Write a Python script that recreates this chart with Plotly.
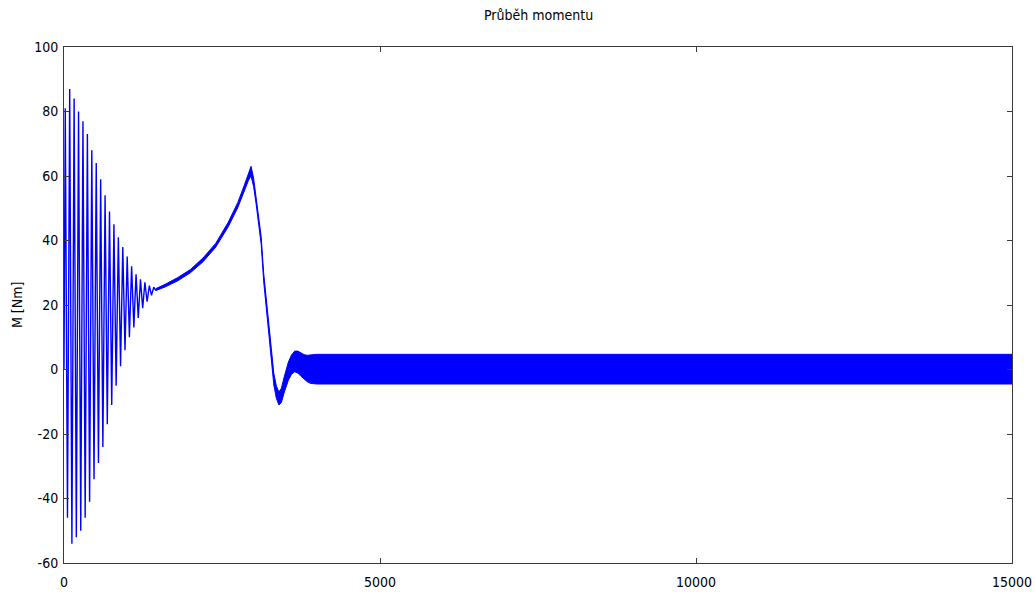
import plotly.graph_objects as go

# Early oscillation: alternating peaks / troughs (time in samples, torque in Nm)
spike_t = [0, 20, 55, 90, 125, 160, 195, 230, 265, 300, 335, 370, 405, 440, 475,
           510, 545, 580, 615, 650, 685, 720, 755, 790, 825, 860, 895, 930, 965,
           1000, 1035, 1070, 1105, 1140, 1175, 1210, 1245, 1280, 1315, 1350, 1385,
           1420, 1455]
spike_m = [0, 81, -46, 87, -54, 84, -52, 80, -50, 77, -46, 73, -41, 68, -34,
           64, -29, 59, -24, 54, -17, 49, -11, 45, -5, 41, 1, 38, 6,
           35, 10, 32, 13, 29.5, 16, 28, 19, 27, 21, 26, 23,
           25.5, 24.5]

# Later part: dense ripple drawn as a band between upper / lower envelopes
band_t = [1455, 1600, 1800, 2000, 2200, 2400, 2600, 2750, 2850, 2920, 2960,
          3000, 3040, 3080, 3120, 3160, 3200, 3240, 3280, 3320, 3360, 3400,
          3440, 3480, 3550, 3600, 3650, 3700, 3750, 3800, 3850, 3900, 4000, 15000]
band_upper = [25.1, 26.4, 28.5, 31.0, 34.6, 39.1, 45.7, 51.8, 57.0, 61.3, 63.0,
              59.3, 53.7, 48.2, 41.2, 29.8, 21.4, 14.5, 6.6, -1.2, -5.1, -7.0,
              -5.8, -2.6, 2.3, 4.5, 5.7, 5.7, 5.1, 4.6, 4.4, 4.5, 4.7, 4.7]
band_lower = [24.5, 25.6, 27.5, 30.0, 33.4, 37.9, 44.3, 50.2, 55.0, 58.7, 60.0,
              56.7, 51.3, 45.8, 38.8, 27.2, 18.6, 11.5, 3.4, -4.8, -8.9, -11.0,
              -10.2, -7.4, -3.3, -1.5, -0.7, -1.1, -2.1, -3.0, -3.8, -4.3, -4.5, -4.5]

x_ticks = [0, 5000, 10000, 15000]
y_ticks = [-60, -40, -20, 0, 20, 40, 60, 80, 100]

BLUE = "#0000ff"
AXC = "#3a3a3a"
FONT = "DejaVu Sans Condensed, Liberation Sans, Arial, sans-serif"

fig = go.Figure()
fig.add_trace(go.Scatter(
    x=band_t + band_t[::-1],
    y=band_upper + band_lower[::-1],
    mode="lines", fill="toself", fillcolor=BLUE,
    line=dict(color=BLUE, width=1), hoverinfo="skip", showlegend=False))
fig.add_trace(go.Scatter(
    x=spike_t, y=spike_m, mode="lines",
    line=dict(color=BLUE, width=1.4), showlegend=False))

axis_common = dict(showline=True, linecolor=AXC, linewidth=1, mirror="ticks",
                   ticks="inside", ticklen=5, tickcolor=AXC, showgrid=False,
                   zeroline=False, automargin=False,
                   tickfont=dict(family=FONT, size=14, color="#000"))

fig.update_xaxes(range=[0, 15000], tickvals=x_ticks,
                 ticktext=[str(v) for v in x_ticks], ticklabelstandoff=6,
                 **axis_common)
fig.update_yaxes(range=[-60, 100], tickvals=y_ticks,
                 ticktext=[str(v) for v in y_ticks], ticklabelstandoff=2,
                 **axis_common)

fig.add_annotation(text="Průběh momentu", xref="paper", yref="paper",
                   x=0.5, y=1 + 32 / 516, xanchor="center", yanchor="middle",
                   showarrow=False, font=dict(family=FONT, size=14, color="#000"))
fig.add_annotation(text="M [Nm]", xref="paper", yref="paper",
                   x=(17 - 64) / 948, y=0.5, xanchor="center", yanchor="middle",
                   textangle=-90, showarrow=False,
                   font=dict(family=FONT, size=14, color="#000"))

fig.update_layout(width=1035, height=592,
                  margin=dict(l=64, r=23, t=47, b=29),
                  paper_bgcolor="white", plot_bgcolor="white")

fig.write_html("out.html")
